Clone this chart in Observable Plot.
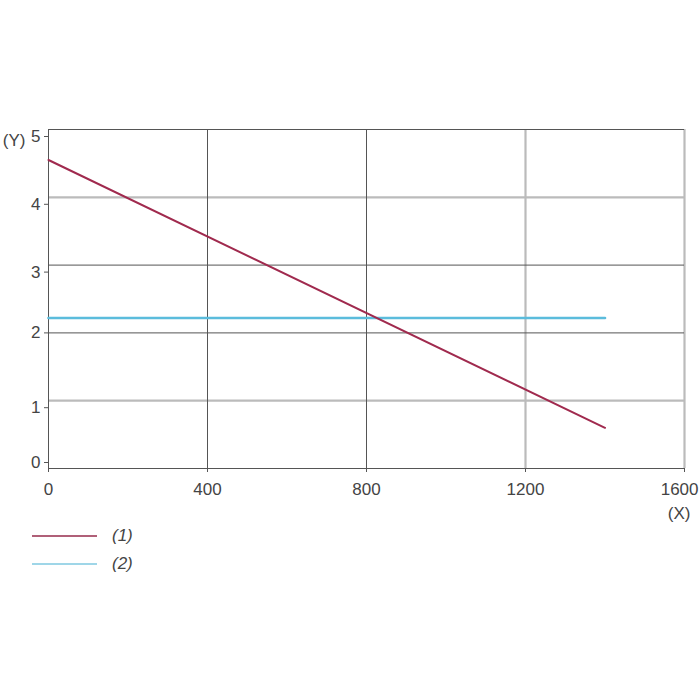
<!DOCTYPE html>
<html>
<head>
<meta charset="utf-8">
<script src="https://cdn.jsdelivr.net/npm/d3@7"></script>
<script src="https://cdn.jsdelivr.net/npm/@observablehq/plot@0.6"></script>
<style>
  html, body { margin: 0; padding: 0; background: #fff; }
  #chart svg { display: block; }
  .legend { position: relative; height: 80px; font-family: "Liberation Sans", Arial, sans-serif; font-size: 17px; color: #444; font-style: italic; }
  .legend .item { position: absolute; left: 32px; display: flex; align-items: center; }
  .legend .swatch { width: 65px; height: 0; margin-right: 15px; }
</style>
</head>
<body>
<div id="chart"></div>
<div class="legend" id="legend"></div>
<script>
// ---- data ----
const seriesNames = ["(1)", "(2)"];
const seriesColors = ["#a02a4e", "#5bbcdc"];
const xValues = [0, 1400];
const series1 = [4.55, 0.6];
const series2 = [2.22, 2.22];
const xTicks = [0, 400, 800, 1200, 1600];
const yTicks = [0, 1, 2, 3, 4, 5];
const xGridDark = [0, 400, 800];
const xGridLight = [1200, 1600];
const yGridDark = [0, 2, 3, 5];
const yGridLight = [1, 4];
const xLabel = "(X)";
const yLabel = "(Y)";

const line1 = xValues.map((x, i) => ({x, y: series1[i]}));
const line2 = xValues.map((x, i) => ({x, y: series2[i]}));

const fmt = d => String(d);
const font = "'Liberation Sans', Arial, sans-serif";
const axisStyle = {stroke: "#555", fontSize: 17, fill: "#444", label: null, tickFormat: fmt};
const lastX = xTicks[xTicks.length - 1];

const plot = Plot.plot({
  width: 700,
  height: 532,
  marginLeft: 48,
  marginRight: 16,
  marginTop: 129,
  marginBottom: 64,
  style: {fontFamily: font, fontSize: "17px", color: "#444", background: "#fff"},
  x: {domain: [0, 1600]},
  y: {domain: [0, 5]},
  marks: [
    Plot.ruleX(xGridLight, {stroke: "#bbb", strokeWidth: 2.2}),
    Plot.ruleY(yGridLight, {stroke: "#bbb", strokeWidth: 2.2}),
    Plot.ruleX(xGridDark, {stroke: "#555", strokeWidth: 1}),
    Plot.ruleY(yGridDark, {stroke: "#555", strokeWidth: 1}),
    Plot.axisY(yTicks.filter(d => d !== 0 && d !== 2), {...axisStyle, tickSize: 4, tickPadding: 4, dy: 7}),
    Plot.axisY([2], {...axisStyle, tickSize: 4, tickPadding: 4, dy: 0}),
    Plot.axisY([0], {...axisStyle, tickSize: 4, tickPadding: 4, dy: -6}),
    Plot.axisX(xTicks, {...axisStyle, tickSize: 4, tickPadding: 10, tickFormat: d => d === lastX ? "" : String(d)}),
    Plot.axisX([lastX], {...axisStyle, tickSize: 0, tickPadding: 14, textAnchor: "end", dx: 14}),
    Plot.text([xLabel], {frameAnchor: "bottom-right", textAnchor: "end", lineAnchor: "middle", dx: 6, dy: 45, fontSize: 17, fill: "#444"}),
    Plot.text([yLabel], {frameAnchor: "top-left", textAnchor: "end", lineAnchor: "middle", dx: -23, dy: 11, fontSize: 17, fill: "#444"}),
    Plot.line(line2, {x: "x", y: "y", stroke: seriesColors[1], strokeWidth: 2.6}),
    Plot.line(line1, {x: "x", y: "y", stroke: seriesColors[0], strokeWidth: 2})
  ]
});
document.getElementById("chart").appendChild(plot);

const legend = document.getElementById("legend");
seriesNames.forEach((name, i) => {
  const item = document.createElement("div");
  item.className = "item";
  item.style.top = (i === 0 ? -7 : 21) + "px";
  item.style.height = "22px";
  const sw = document.createElement("span");
  sw.className = "swatch";
  sw.style.borderTop = `${i === 0 ? 2 : 2.5}px solid ${i === 0 ? "#b06078" : "#9fd6e8"}`;
  const label = document.createElement("span");
  label.textContent = name;
  item.appendChild(sw);
  item.appendChild(label);
  legend.appendChild(item);
});
</script>
</body>
</html>
